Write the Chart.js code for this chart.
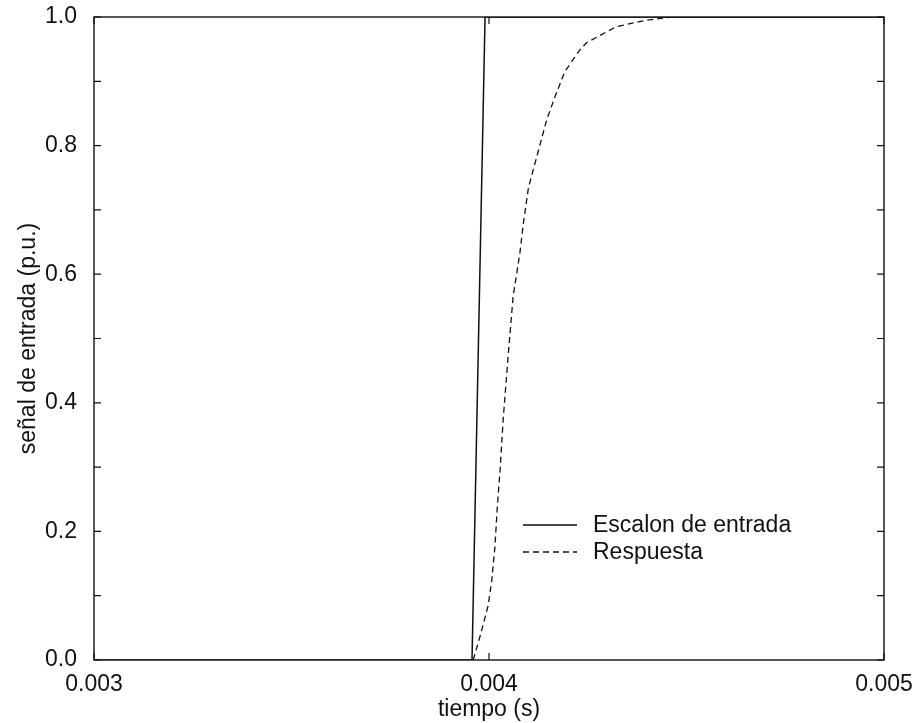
<!DOCTYPE html>
<html>
<head>
<meta charset="utf-8">
<script src="https://cdn.jsdelivr.net/npm/chart.js@4.4.1/dist/chart.umd.min.js"></script>
<style>
  html, body { margin: 0; padding: 0; background: #fff; }
  #wrap { width: 915px; height: 723px; position: relative; }
</style>
</head>
<body>
<div id="wrap"><canvas id="chart"></canvas></div>
<script>
// Escalon de entrada (step input)
const escalonT = [0.003, 0.003957, 0.00399, 0.005];
const escalonV = [0, 0, 1, 1];

// Respuesta (response)
const respuestaT = [0.00396, 0.003977, 0.003998, 0.004007, 0.004015, 0.004021, 0.004028, 0.004036,
    0.004049, 0.004061, 0.004078, 0.004087, 0.0041, 0.004146, 0.004167, 0.004192, 0.00423,
    0.004247, 0.004322, 0.004398, 0.004465, 0.005];
const respuestaV = [0, 0.036, 0.085, 0.124, 0.176, 0.238, 0.295, 0.375,
    0.477, 0.565, 0.632, 0.679, 0.735, 0.84, 0.876, 0.915, 0.949,
    0.96, 0.985, 0.995, 1.0, 1.0];

// Axis ticks
const xTickMarks = [0.003, 0.004, 0.005];
const yTickMarks = [0, 0.1, 0.2, 0.3, 0.4, 0.5, 0.6, 0.7, 0.8, 0.9, 1.0];

const FONT = 'Liberation Sans, Arial, Helvetica, sans-serif';
const INK = '#111';

function toPoints(t, v) {
    return t.map((x, i) => ({ x: x, y: v[i] }));
}

// Frame box with inward tick marks
const framePlugin = {
    id: 'frame',
    afterDatasetsDraw(chart) {
        const { ctx, chartArea: a, scales } = chart;
        ctx.save();
        ctx.strokeStyle = INK;
        ctx.lineWidth = 1.4;
        ctx.strokeRect(a.left, a.top, a.right - a.left, a.bottom - a.top);
        ctx.lineWidth = 1.2;
        ctx.beginPath();
        yTickMarks.forEach(v => {
            const y = scales.y.getPixelForValue(v);
            ctx.moveTo(a.left, y); ctx.lineTo(a.left + 7, y);
            ctx.moveTo(a.right, y); ctx.lineTo(a.right - 7, y);
        });
        xTickMarks.forEach(v => {
            const x = scales.x.getPixelForValue(v);
            ctx.moveTo(x, a.bottom); ctx.lineTo(x, a.bottom - 7);
            ctx.moveTo(x, a.top); ctx.lineTo(x, a.top + 7);
        });
        ctx.stroke();
        ctx.restore();
    }
};

// Legend drawn inside the plot
const legendPlugin = {
    id: 'insideLegend',
    afterDraw(chart) {
        const { ctx, chartArea: a } = chart;
        const x0 = a.left + 429;
        const y0 = a.top + 508;
        ctx.save();
        ctx.font = '23px ' + FONT;
        ctx.textBaseline = 'middle';
        ctx.fillStyle = INK;
        chart.data.datasets.forEach((ds, i) => {
            const y = y0 + i * 27;
            ctx.strokeStyle = INK;
            ctx.lineWidth = ds.borderWidth;
            ctx.setLineDash(ds.borderDash || []);
            ctx.beginPath();
            ctx.moveTo(x0, y);
            ctx.lineTo(x0 + 54, y);
            ctx.stroke();
            ctx.fillText(ds.label, x0 + 70, y + 1);
        });
        ctx.restore();
    }
};

const ctx = document.getElementById('chart');
new Chart(ctx, {
    type: 'scatter',
    data: {
        datasets: [{
            label: 'Escalon de entrada',
            data: toPoints(escalonT, escalonV),
            showLine: true,
            borderColor: INK,
            borderWidth: 1.5,
            pointRadius: 0,
            tension: 0
        }, {
            label: 'Respuesta',
            data: toPoints(respuestaT, respuestaV),
            showLine: true,
            borderColor: INK,
            borderWidth: 1.3,
            borderDash: [6, 4],
            pointRadius: 0,
            tension: 0
        }]
    },
    options: {
        responsive: true,
        maintainAspectRatio: false,
        animation: false,
        layout: { padding: { top: 17, right: 31, left: 0, bottom: 0 } },
        plugins: {
            legend: { display: false },
            tooltip: { enabled: false }
        },
        scales: {
            x: {
                type: 'linear',
                min: 0.003,
                max: 0.005,
                afterFit: s => { s.height = 63; s.paddingLeft = 0; s.paddingRight = 0; },
                afterBuildTicks: s => { s.ticks = xTickMarks.map(v => ({ value: v })); },
                grid: { display: false, drawTicks: false },
                border: { display: false },
                ticks: {
                    padding: 11,
                    color: INK,
                    font: { family: FONT, size: 23 },
                    maxRotation: 0,
                    callback: v => v.toFixed(3)
                },
                title: {
                    display: true,
                    text: 'tiempo (s)',
                    color: INK,
                    font: { family: FONT, size: 23 },
                    padding: { top: 0, bottom: 0 }
                }
            },
            y: {
                type: 'linear',
                min: 0,
                max: 1,
                afterFit: s => { s.width = 94; s.paddingTop = 0; s.paddingBottom = 0; },
                grid: { display: false, drawTicks: false },
                border: { display: false },
                ticks: {
                    stepSize: 0.2,
                    padding: 17,
                    color: INK,
                    font: { family: FONT, size: 23 },
                    callback: v => v.toFixed(1)
                },
                title: {
                    display: true,
                    text: 'señal de entrada (p.u.)',
                    color: INK,
                    font: { family: FONT, size: 23 },
                    padding: { top: 15, bottom: 0 }
                }
            }
        }
    },
    plugins: [framePlugin, legendPlugin]
});
</script>
</body>
</html>
